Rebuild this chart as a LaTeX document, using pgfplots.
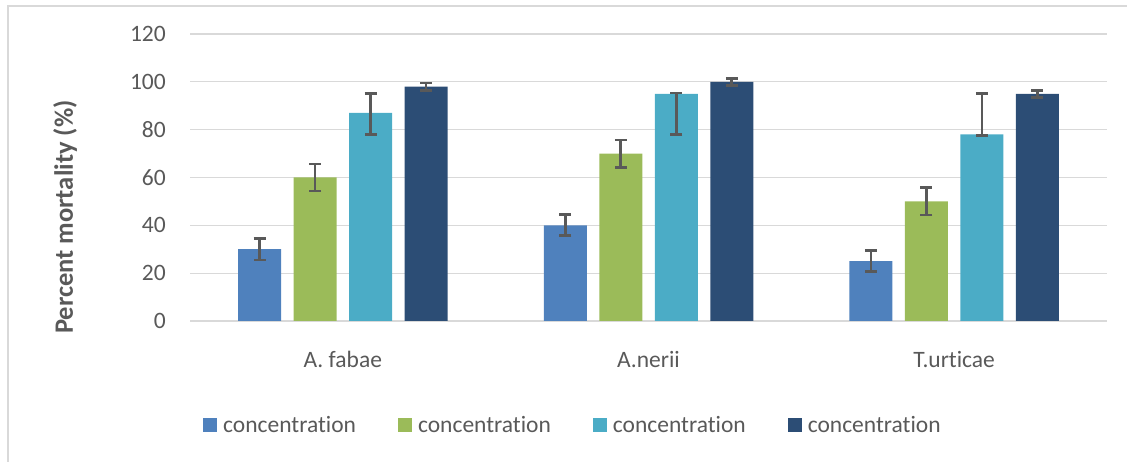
\documentclass[border=0pt]{standalone}
\usepackage{fontspec}
\setmainfont[Ligatures={NoCommon,NoContextual}]{Carlito}
\usepackage{pgfplots}
\pgfplotsset{compat=1.18}
\definecolor{cBlue}{HTML}{4F81BD}
\definecolor{cGreen}{HTML}{9BBB59}
\definecolor{cCyan}{HTML}{4BACC6}
\definecolor{cNavy}{HTML}{2C4D75}
\definecolor{gridgray}{HTML}{D9D9D9}
\definecolor{textgray}{HTML}{595959}
\definecolor{errgray}{HTML}{595959}
\begin{document}
\begin{tikzpicture}[x=1bp,y=1bp]
\useasboundingbox (0,0) rectangle (1127,462);
\draw[gridgray, line width=1.5bp] (8,0) -- (8,456) -- (1127,456);
\begin{axis}[
  at={(190bp,141bp)}, anchor=south west,
  scale only axis, width=917bp, height=287bp,
  ybar=12.5bp, bar width=43bp,
  ymin=0, ymax=120, xmin=-0.5, xmax=2.5,
  ytick={0,20,...,120},
  xtick={0,1,2},
  xticklabels={A. fabae, A.nerii, T.urticae},
  ymajorgrids, grid style={gridgray, line width=1.3bp},
  axis line style={draw=none},
  major tick length=0pt,
  /pgf/number format/assume math mode=true,
  tick label style={font=\fontsize{23.5bp}{28bp}\selectfont, text=textgray, inner sep=0pt},
  yticklabel style={anchor=east, xshift=-24bp},
  xticklabel style={anchor=base, yshift=-47bp},
  ylabel={Percent mortality (\%)},
  ylabel style={at={(rel axis cs:-0.1363,0.362)}, anchor=center, font=\fontsize{26.5bp}{30bp}\selectfont\bfseries, text=textgray},
  legend columns=4,
  legend style={at={(rel axis cs:0.0142,-0.362)}, anchor=west, draw=none, fill=none,
    inner sep=0pt, nodes={inner sep=0pt, anchor=west, font=\fontsize{23.5bp}{28bp}\selectfont, text=textgray},
    /tikz/every odd column/.append style={column sep=6bp},
    /tikz/every even column/.append style={column sep=42bp}},
  legend image code/.code={\fill[#1] (0bp,-7bp) rectangle (14bp,7bp);},
  error bars/y dir=both, error bars/y explicit,
  error bars/error bar style={line width=2.7bp, color=errgray},
  error bars/error mark options={rotate=90, mark size=6bp, line width=2.7bp, color=errgray},
]
\addplot[fill=cBlue, draw=none]
  coordinates {(0,30) +- (0,4.5) (1,40) +- (0,4.4) (2,25) +- (0,4.4)};
\addplot[fill=cGreen, draw=none]
  coordinates {(0,60) +- (0,5.7) (1,70) +- (0,5.7) (2,50) +- (0,5.7)};
\addplot[fill=cCyan, draw=none]
  coordinates {(0,87) += (0,8) -= (0,9) (1,95) += (0,0.3) -= (0,17) (2,78) += (0,17) -= (0,0.3)};
\addplot[fill=cNavy, draw=none]
  coordinates {(0,98) +- (0,1.5) (1,100) +- (0,1.5) (2,95) +- (0,1.5)};
\legend{concentration, concentration, concentration, concentration}
\end{axis}
\end{tikzpicture}
\end{document}
